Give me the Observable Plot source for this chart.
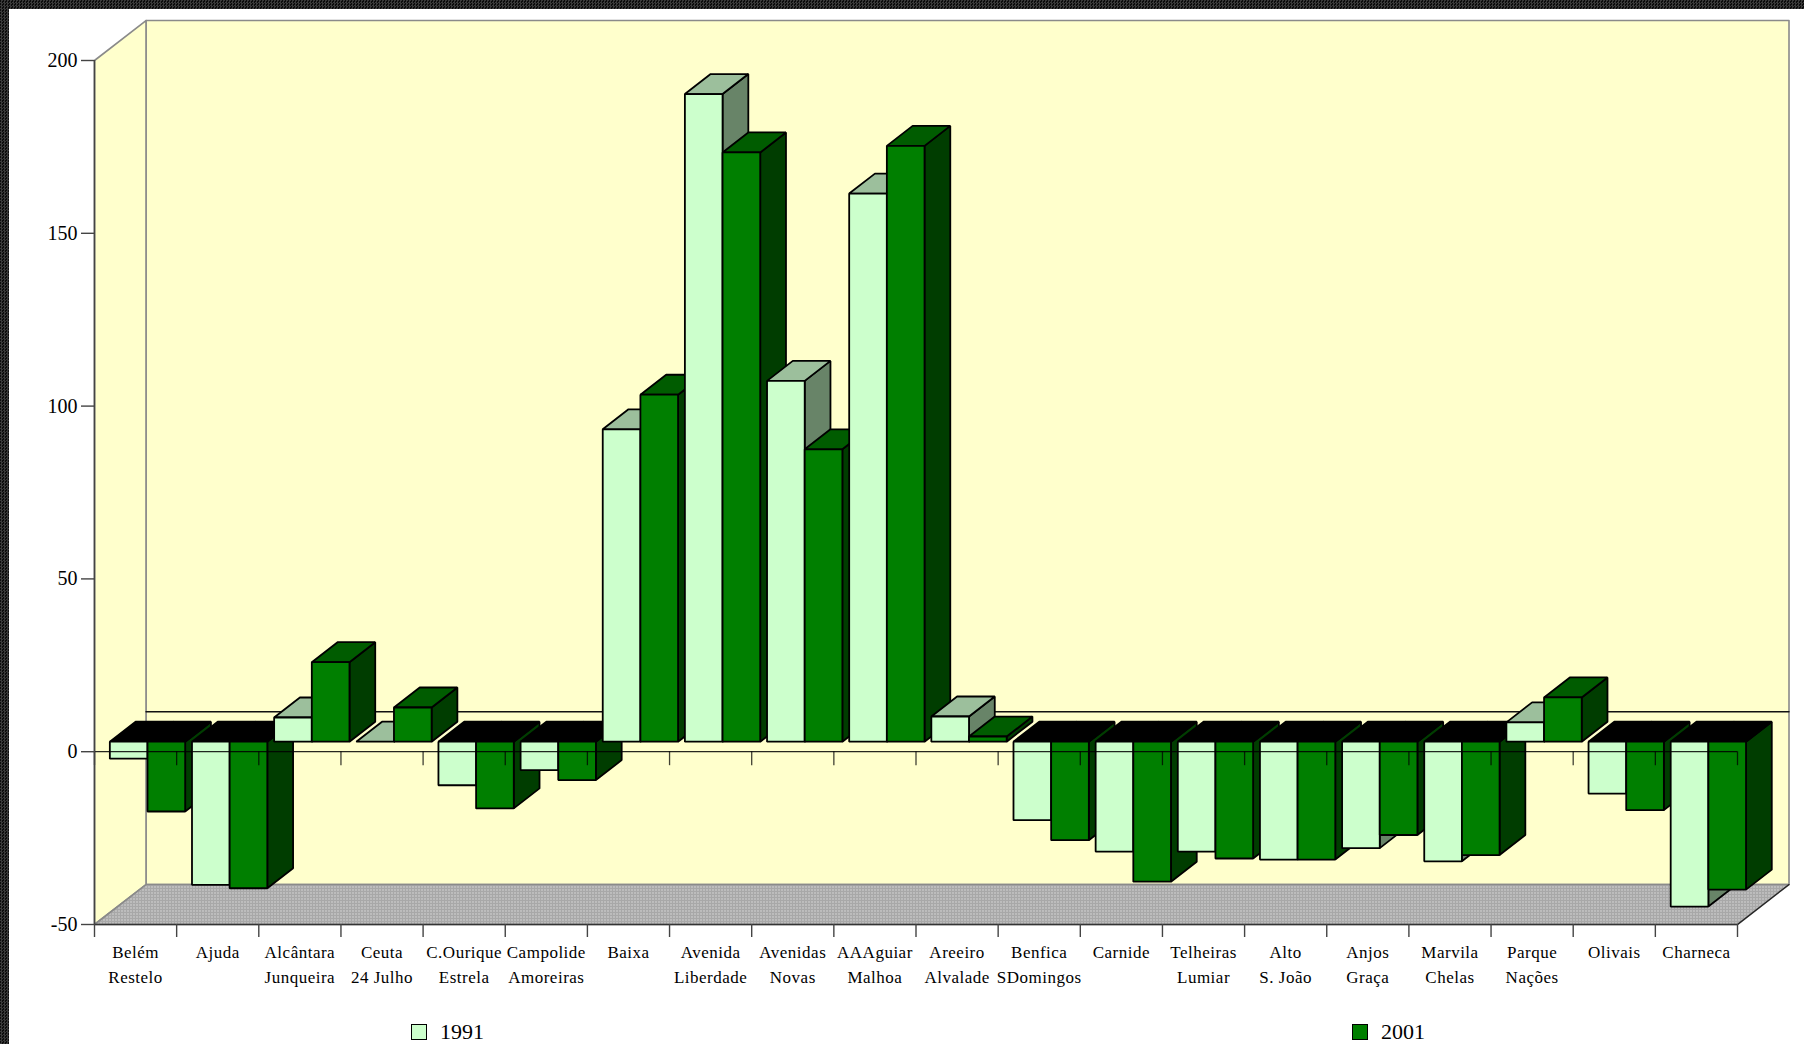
<!DOCTYPE html>
<html><head><meta charset="utf-8">
<script src="https://cdn.jsdelivr.net/npm/d3@7"></script>
<script src="https://cdn.jsdelivr.net/npm/@observablehq/plot@0.6"></script>
<style>
html,body{margin:0;padding:0;width:1804px;height:1044px;overflow:hidden;background-color:#1a1a1a;
background-image:repeating-conic-gradient(#3a3a3a 0 25%,#0c0c0c 0 50%);background-size:3px 3px}
#panel{position:absolute;left:9px;top:9px;width:1795px;height:1035px;background:#fff}
#chart{position:absolute;left:0;top:0}
#chart svg{display:block;background:transparent}
.cat text{letter-spacing:.5px}
#legend{position:absolute;left:0;top:1012px;width:1804px;height:32px;font:22px "Liberation Serif",serif;color:#000}
.item{position:absolute;top:0;display:flex;align-items:center;height:40px}
.sw{width:14px;height:14px;border:1.5px solid #000;margin-right:13px}
</style></head><body>
<div id="panel"></div><div id="chart"></div>
<div id="legend"></div>
<script>
const categories = ["Belém\nRestelo","Ajuda","Alcântara\nJunqueira","Ceuta\n24 Julho","C.Ourique\nEstrela","Campolide\nAmoreiras","Baixa","Avenida\nLiberdade","Avenidas\nNovas","AAAguiar\nMalhoa","Areeiro\nAlvalade","Benfica\nSDomingos","Carnide","Telheiras\nLumiar","Alto\nS. João","Anjos\nGraça","Marvila\nChelas","Parque\nNações","Olivais","Charneca"];
const values1991 = [-4.9,-41.4,7,0,-12.6,-8.2,90.4,187.4,104.4,158.6,7.3,-22.7,-31.8,-31.8,-34.1,-30.8,-34.6,5.6,-15,-47.7];
const values2001 = [-20.2,-42.4,23,9.9,-19.3,-11.1,100.4,170.5,84.6,172.4,1.5,-28.5,-40.5,-33.8,-34.1,-27,-32.8,12.8,-19.8,-42.8];
const yearLabels = ["1991","2001"];
const faceColors = [
  {front:"#ccffcc",top:"#9cbf9c",side:"#688468"},
  {front:"#007f00",top:"#005c00",side:"#003d00"}
];
const yTicks = [-50,0,50,100,150,200];

// box geometry, in scale units (categories along x, value along y)
const depthX = 0.627, depthY = 11.57;
const barW = 0.4585, pad = 0.03;
const offX = depthX/4, offY = depthY/4, dX = depthX/2, dY = depthY/2;
const nCat = categories.length;

const polys = [];
let pid = 0;
function poly(pts, fill){ pid++; for(const [x,y] of pts) polys.push({id:pid,x,y,fill}); }
categories.forEach((c,i)=>{
  [values1991,values2001].forEach((vals,s)=>{
    const v = vals[i], col = faceColors[s];
    const x0 = i+offX+pad+s*barW, x1 = x0+barW, b = offY, t = b+v;
    if (v>=0){
      poly([[x1,b],[x1,t],[x1+dX,t+dY],[x1+dX,b+dY]],col.side);
      poly([[x0,t],[x1,t],[x1+dX,t+dY],[x0+dX,t+dY]],col.top);
    } else {
      poly([[x1,t],[x1,b],[x1+dX,b+dY],[x1+dX,t+dY]],col.side);
      poly([[x0,b],[x1,b],[x1+dX,b+dY],[x0+dX,b+dY]],"#000");
    }
    if (v!==0) poly([[x0,b],[x1,b],[x1,t],[x0,t]],col.front);
  });
});

const wall = fill=>({fill, stroke:"#8a8a8a", strokeWidth:1.6, curve:"linear-closed", x:"x", y:"y"});
const yMin=-50, yMax=200;
const leftWall = [{x:0,y:yMax},{x:depthX,y:yMax+depthY},{x:depthX,y:yMin+depthY},{x:0,y:yMin}];
const backWall = [{x:depthX,y:yMin+depthY},{x:depthX,y:yMax+depthY},{x:nCat+depthX,y:yMax+depthY},{x:nCat+depthX,y:yMin+depthY}];
const floor = [{x:0,y:yMin},{x:depthX,y:yMin+depthY},{x:nCat+depthX,y:yMin+depthY},{x:nCat,y:yMin}];
const backZero = [{x:depthX,y:depthY},{x:nCat+depthX,y:depthY}];

const defs = ()=>{
  const ns="http://www.w3.org/2000/svg";
  const d=document.createElementNS(ns,"defs");
  d.innerHTML='<pattern id="dith" width="3" height="3" patternUnits="userSpaceOnUse"><rect width="3" height="3" fill="#a8a8a8"/><rect x="1" y="1" width="1" height="1" fill="#fafafa"/></pattern>';
  return d;
};

const tickXs = d3.range(nCat+1);
const plot = Plot.plot({
  width:1804, height:1012,
  marginLeft:94, marginRight:67, marginTop:60, marginBottom:88,
  style:{background:"transparent",fontFamily:'"Liberation Serif",serif',color:"#000"},
  x:{type:"linear",domain:[0,nCat],axis:null},
  y:{type:"linear",domain:[yMin,yMax],axis:null},
  marks:[
    defs,
    Plot.line(backWall,wall("#ffffcc")),
    Plot.line(leftWall,wall("#ffffcc")),
    Plot.line(floor,wall("url(#dith)")),
    Plot.line([{x:nCat,y:yMin},{x:nCat+depthX,y:yMin+depthY}],{x:"x",y:"y",stroke:"#222",strokeWidth:1.2}),
    Plot.line(backZero,{x:"x",y:"y",stroke:"#111",strokeWidth:1.4}),
    Plot.line(polys,{x:"x",y:"y",z:"id",fill:{value:"fill",scale:null},stroke:"#000",strokeWidth:1.8,strokeLinejoin:"miter",curve:"linear-closed"}),
    Plot.ruleY([0],{x1:0,x2:nCat,stroke:"#000",strokeWidth:1.3,strokeOpacity:.85}),
    Plot.ruleX(tickXs,{y1:0,y2:-4.05,stroke:"#000",strokeWidth:1.3,strokeOpacity:.75}),
    Plot.ruleY([yMin],{x1:0,x2:nCat,stroke:"#333",strokeWidth:1.6}),
    Plot.ruleX([0],{y1:yMin,y2:yMax,stroke:"#444",strokeWidth:1.6}),
    Plot.axisY({ticks:yTicks,tickSize:13,tickPadding:4,fontSize:20,stroke:"#444",strokeWidth:1.4,tickFormat:d=>String(d),label:null,anchor:"left"}),
    Plot.axisX({ticks:tickXs,tickSize:13,tickFormat:()=>"",label:null,stroke:"#444",strokeWidth:1.4,anchor:"bottom"}),
    Plot.axisX({ticks:tickXs.slice(0,-1).map(i=>i+.5),tickSize:0,tickPadding:16,fontSize:17,lineHeight:1.47,
      tickFormat:d=>categories[Math.floor(d)],label:null,anchor:"bottom",className:"cat"})
  ]
});
document.getElementById("chart").appendChild(plot);

const legendLefts=[411,1352];
yearLabels.forEach((lab,i)=>{
  const it=document.createElement("div");it.className="item";it.style.left=legendLefts[i]+"px";
  const sw=document.createElement("div");sw.className="sw";sw.style.background=faceColors[i].front;
  const t=document.createElement("span");t.textContent=lab;
  it.append(sw,t);document.getElementById("legend").appendChild(it);
});
</script></body></html>
